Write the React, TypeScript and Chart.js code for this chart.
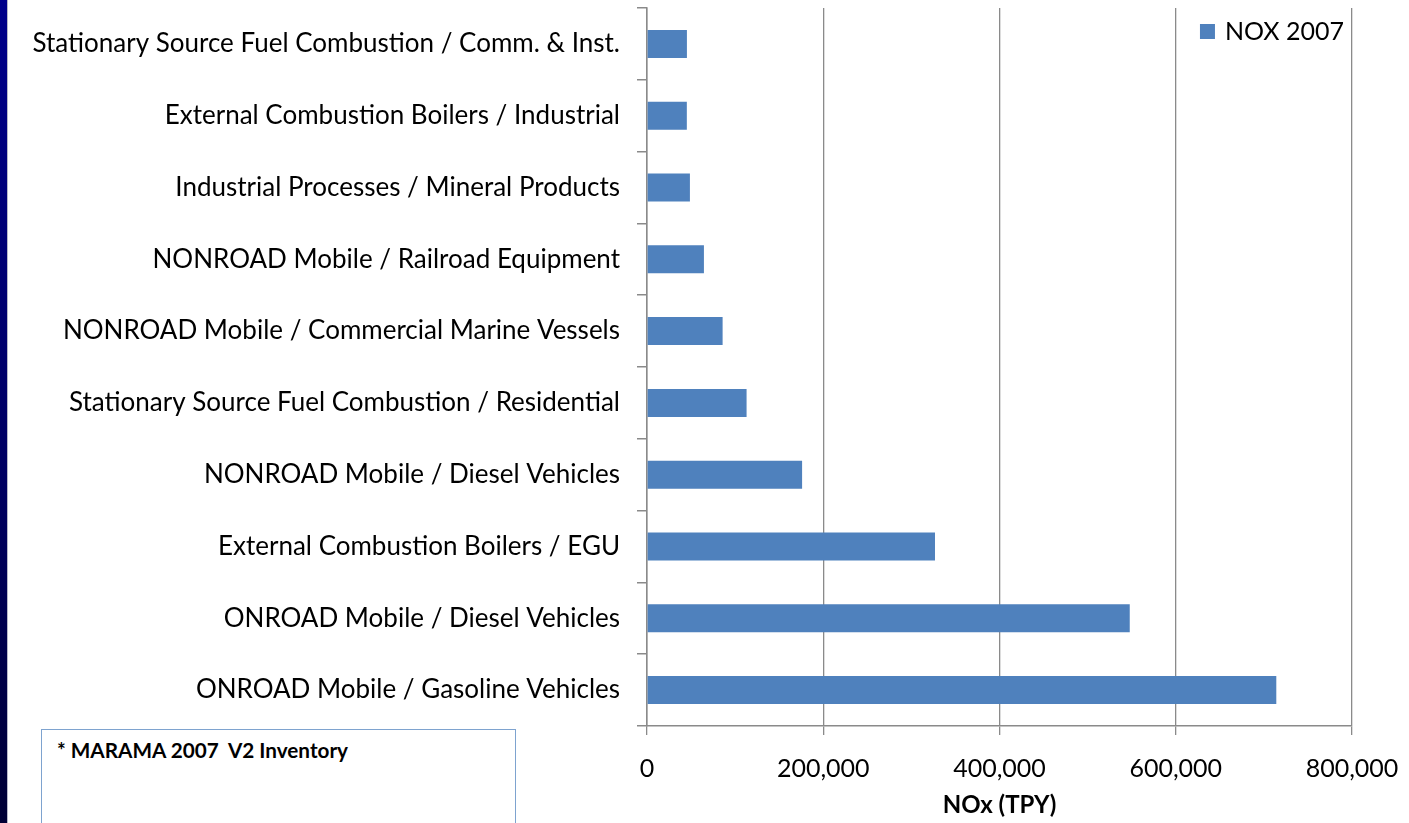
import React, { useEffect, useRef } from "react";
import { Chart, registerables } from "chart.js";

Chart.register(...registerables);

const categories: string[] = [
  "Stationary Source Fuel Combustion / Comm. & Inst.",
  "External Combustion Boilers / Industrial",
  "Industrial Processes / Mineral Products",
  "NONROAD Mobile / Railroad Equipment",
  "NONROAD Mobile / Commercial Marine Vessels",
  "Stationary Source Fuel Combustion / Residential",
  "NONROAD Mobile / Diesel Vehicles",
  "External Combustion Boilers / EGU",
  "ONROAD Mobile / Diesel Vehicles",
  "ONROAD Mobile / Gasoline Vehicles",
];

const nox2007: number[] = [
  45300, 45200, 48700, 64600, 85800, 113000, 176000, 326800, 547800, 714100,
];

const seriesLabel = "NOX 2007";
const xAxisTitle = "NOx (TPY)";
const xMin = 0;
const xMax = 800000;
const xStep = 200000;
const noteText = "* MARAMA 2007  V2 Inventory";

const FONT = "Lato, 'Open Sans', sans-serif";
const BAR_COLOR = "#4F81BD";
const GRID_COLOR = "#8a8a8a";

const cornerLegend = {
  id: "cornerLegend",
  afterDraw(chart: any) {
    const { ctx, chartArea } = chart;
    const ds = chart.data.datasets[0];
    ctx.save();
    ctx.font = `25px ${FONT}`;
    const textW = ctx.measureText(ds.label).width;
    const textX = chartArea.right - 8 - textW;
    const boxX = textX - 25;
    const y = chartArea.top + 23;
    ctx.fillStyle = ds.backgroundColor;
    ctx.fillRect(boxX, y - 7, 15, 15);
    ctx.fillStyle = "#000";
    ctx.textBaseline = "middle";
    ctx.fillText(ds.label, textX, y + 1);
    ctx.restore();
  },
};

export default function App() {
  const canvasRef = useRef<HTMLCanvasElement | null>(null);

  useEffect(() => {
    if (!canvasRef.current) return;
    const chart = new Chart(canvasRef.current, {
      type: "bar",
      data: {
        labels: categories,
        datasets: [
          {
            label: seriesLabel,
            data: nox2007,
            backgroundColor: BAR_COLOR,
            borderWidth: 0,
            barPercentage: 0.39,
            categoryPercentage: 1,
          },
        ],
      },
      plugins: [cornerLegend],
      options: {
        indexAxis: "y",
        animation: false,
        responsive: false,
        maintainAspectRatio: false,
        layout: { padding: { top: 8, right: 57, left: 0, bottom: 0 } },
        plugins: {
          legend: { display: false },
          tooltip: { enabled: false },
        },
        scales: {
          x: {
            min: xMin,
            max: xMax,
            afterFit(scale: any) {
              scale.height = 97;
              scale.paddingLeft = 0;
              scale.paddingRight = 0;
            },
            ticks: {
              stepSize: xStep,
              color: "#000",
              font: { family: FONT, size: 25 },
              padding: 19,
              maxRotation: 0,
              callback: (v: any) => Number(v).toLocaleString("en-US"),
            },
            grid: {
              color: GRID_COLOR,
              lineWidth: 1.3,
              drawTicks: true,
              tickLength: 9,
            },
            border: { color: GRID_COLOR, width: 1.5 },
            title: {
              display: true,
              text: xAxisTitle,
              color: "#000",
              font: { family: FONT, size: 24, weight: "bold" },
              padding: { top: 0, bottom: 3 },
            },
          },
          y: {
            afterFit(scale: any) {
              scale.width = 647;
              scale.paddingTop = 0;
              scale.paddingBottom = 0;
            },
            ticks: {
              color: "#000",
              font: { family: FONT, size: 26 },
              padding: 17,
              autoSkip: false,
            },
            grid: {
              offset: true,
              drawOnChartArea: false,
              drawTicks: true,
              tickLength: 10,
              color: GRID_COLOR,
              lineWidth: 1.5,
            },
            border: { color: GRID_COLOR, width: 1.5 },
          },
        },
      },
    } as any);
    return () => chart.destroy();
  }, []);

  return (
    <div
      style={{
        position: "absolute",
        left: 0,
        top: 0,
        width: 1409,
        height: 823,
        overflow: "hidden",
        background: "#fff",
      }}
    >
      <canvas
        ref={canvasRef}
        width={1409}
        height={823}
        style={{ position: "absolute", left: 0, top: 0, width: 1409, height: 823 }}
      />
      <div
        style={{
          position: "absolute",
          left: 0,
          top: 0,
          width: 7,
          height: 823,
          background: "linear-gradient(to bottom, #00008a, #000060 60%, #000035)",
          borderRight: "1.5px solid #b8b8c8",
        }}
      />
      <div
        style={{
          position: "absolute",
          left: 41,
          top: 729,
          width: 475,
          height: 110,
          border: "1.5px solid #7ea3cf",
          background: "#fff",
          boxSizing: "border-box",
        }}
      >
        <div
          style={{
            position: "absolute",
            left: 15,
            top: 8,
            fontFamily: FONT,
            fontWeight: "bold",
            fontSize: 20.7,
            color: "#000",
            whiteSpace: "pre",
          }}
        >
          {noteText}
        </div>
      </div>
    </div>
  );
}
